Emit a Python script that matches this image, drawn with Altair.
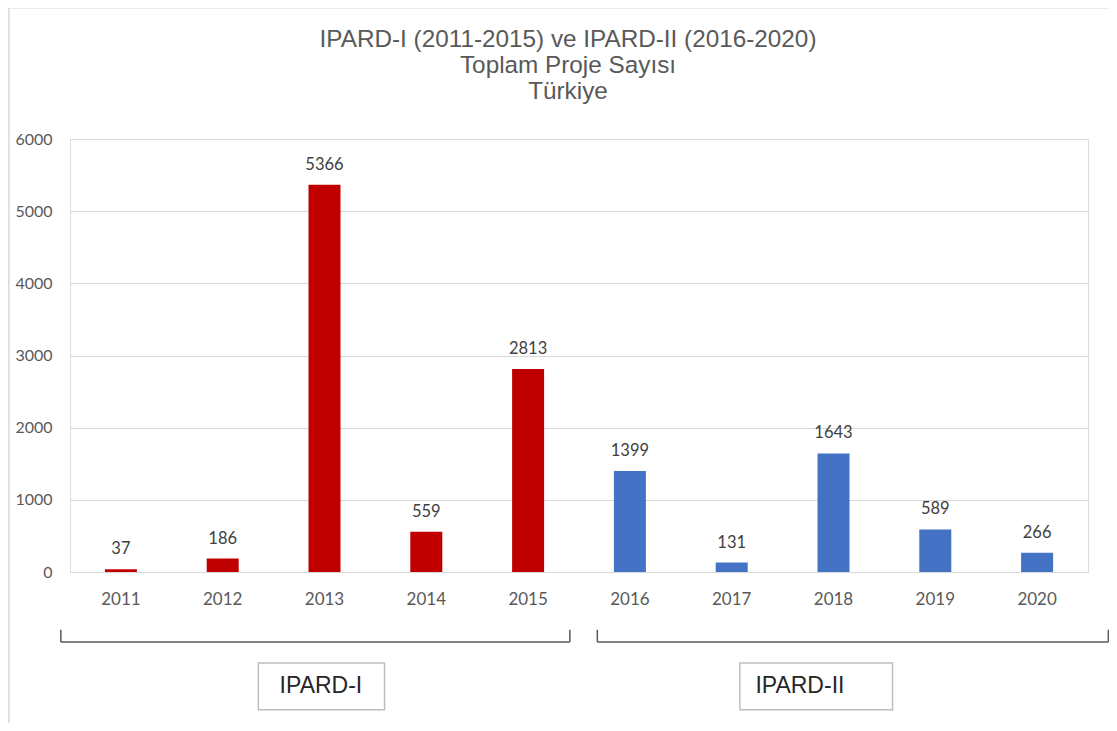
import altair as alt
import pandas as pd

years = ["2011", "2012", "2013", "2014", "2015", "2016", "2017", "2018", "2019", "2020"]
values = [37, 186, 5366, 559, 2813, 1399, 131, 1643, 589, 266]
programs = ["IPARD-I"] * 5 + ["IPARD-II"] * 5
program_names = ["IPARD-I", "IPARD-II"]
program_colors = ["#C00000", "#4472C4"]
title_lines = ["IPARD-I (2011-2015) ve IPARD-II (2016-2020)", "Toplam Proje Sayısı", "Türkiye"]

# bracket / label-box geometry in data units (x: band index units 0..10, y: value units)
bracket_x0 = [-0.09, 5.18]
bracket_x1 = [4.91, 10.2]
bracket_top = -800
bracket_bottom = -970
box_x0 = [1.85, 6.58]
box_x1 = [3.09, 8.08]
box_y0 = -1260
box_y1 = -1910
text_x = [2.465, 7.17]
text_y = -1585
frame_x = [-0.6, 10.6]
frame_y = [7820, -2400]

df = pd.DataFrame({"year": years, "value": values, "program": programs})

W, H = 1018, 433
FONT_NUM = "Lato"

yscale = alt.Scale(domain=[0, 6000], nice=False)
xq = alt.Scale(domain=[0, 10], nice=False, zero=False)

bars = alt.Chart(df).mark_bar(size=32).encode(
    x=alt.X("year:N", sort=years, title=None,
            scale=alt.Scale(paddingInner=0, paddingOuter=0),
            axis=alt.Axis(labelAngle=0, ticks=False, domain=True, domainColor="#d9d9d9",
                          labelFont=FONT_NUM, labelFontSize=17, labelColor="#595959",
                          labelPadding=19, grid=False)),
    y=alt.Y("value:Q", scale=yscale, title=None,
            axis=alt.Axis(values=[0, 1000, 2000, 3000, 4000, 5000, 6000], format="d",
                          ticks=False, domain=False,
                          gridColor="#d9d9d9", labelFont=FONT_NUM, labelFontSize=16,
                          labelColor="#595959", labelPadding=18)),
    color=alt.Color("program:N", scale=alt.Scale(domain=program_names, range=program_colors), legend=None),
)

labels = alt.Chart(df).mark_text(baseline="bottom", dy=-12, font=FONT_NUM, fontSize=16.5, color="#404040").encode(
    x=alt.X("year:N", sort=years),
    y=alt.Y("value:Q", scale=yscale),
    text="value:Q",
)

main = alt.layer(bars, labels)

framedf = pd.DataFrame({"x0": [frame_x[0]], "x1": [frame_x[1]], "y0": [frame_y[0]], "y1": [frame_y[1]]})
frame = alt.Chart(framedf).mark_rect(fill="transparent", stroke="#d9d9d9", strokeWidth=1.5).encode(
    x=alt.X("x0:Q", scale=xq, axis=None), x2="x1:Q",
    y=alt.Y("y0:Q", scale=yscale), y2="y1:Q",
)

bdf = pd.DataFrame({"x0": bracket_x0, "x1": bracket_x1,
                    "top": [bracket_top] * 2, "bottom": [bracket_bottom] * 2})

hline = alt.Chart(bdf).mark_rule(color="#595959", strokeWidth=1.5).encode(
    x=alt.X("x0:Q", scale=xq, axis=None), x2="x1:Q",
    y=alt.Y("bottom:Q", scale=yscale),
)
lv = alt.Chart(bdf).mark_rule(color="#595959", strokeWidth=1.5).encode(
    x=alt.X("x0:Q", scale=xq, axis=None),
    y=alt.Y("top:Q", scale=yscale), y2="bottom:Q",
)
rv = alt.Chart(bdf).mark_rule(color="#595959", strokeWidth=1.5).encode(
    x=alt.X("x1:Q", scale=xq, axis=None),
    y=alt.Y("top:Q", scale=yscale), y2="bottom:Q",
)

boxdf = pd.DataFrame({"x0": box_x0, "x1": box_x1, "y0": [box_y0] * 2, "y1": [box_y1] * 2,
                      "tx": text_x, "ty": [text_y] * 2, "name": program_names})
boxes = alt.Chart(boxdf).mark_rect(fill="white", stroke="#bfbfbf", strokeWidth=1.5).encode(
    x=alt.X("x0:Q", scale=xq, axis=None), x2="x1:Q",
    y=alt.Y("y0:Q", scale=yscale), y2="y1:Q",
)
boxtext = alt.Chart(boxdf).mark_text(font="Liberation Sans", fontSize=23, color="#262626").encode(
    x=alt.X("tx:Q", scale=xq, axis=None),
    y=alt.Y("ty:Q", scale=yscale),
    text="name:N",
)

deco = alt.layer(frame, hline, lv, rv, boxes, boxtext)

chart = alt.layer(main, deco).resolve_scale(x="independent").properties(
    width=W, height=H,
    title=alt.TitleParams(
        text=title_lines,
        font="Liberation Sans", fontSize=24.3, fontWeight="normal", color="#595959",
        lineHeight=26, anchor="middle", frame="group", offset=-97, dx=-11,
    ),
    autosize=alt.AutoSizeParams(type="none"),
    padding={"left": 62, "top": 131, "right": 21, "bottom": 151},
).configure_view(strokeWidth=0).configure(background="white")

chart.save("out.html", embed_options={"renderer": "svg", "actions": False})
